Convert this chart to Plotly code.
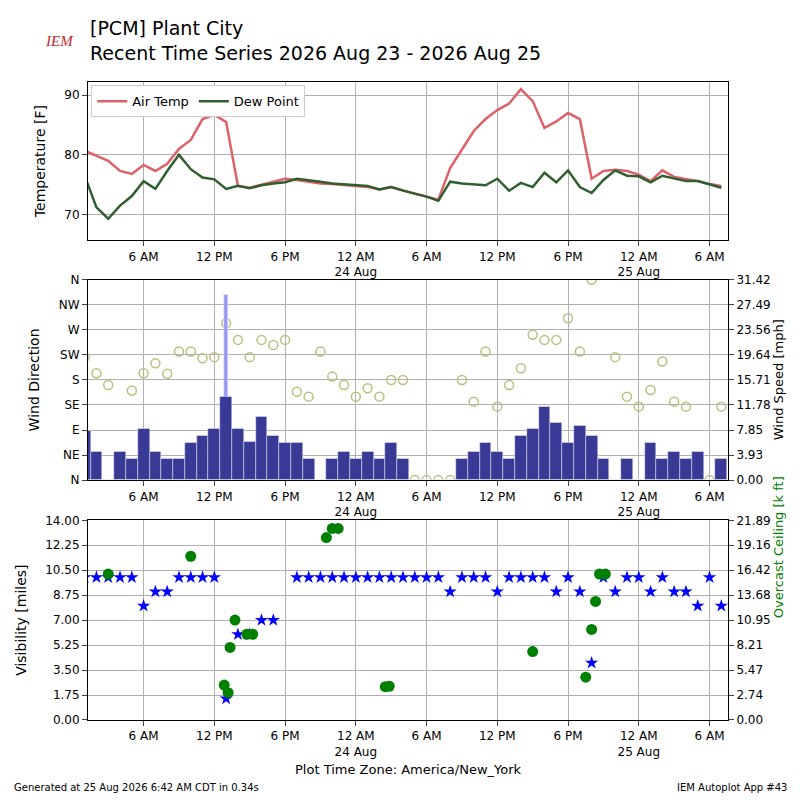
import plotly.graph_objects as go
import pandas as pd

# hourly observations, 23 Aug 01:00 -> 25 Aug 07:00 (local)
heures = pd.date_range("2026-08-23 01:00", periods=55, freq="h")

temp = [80.7, 79.8, 79, 77.3, 76.8, 78.3, 77.3, 78.5, 81, 82.5, 86, 86.7, 85.5, 74.8, 74.5,
        75, 75.5, 76, 75.8, 75.5, 75.2, 75.1, 75, 74.8, 74.6, 74.2, 74.6, 74, 73.5, 73,
        72.5, 77.8, 81, 84, 86, 87.5, 88.6, 91, 89, 84.5, 85.6, 87, 86, 76, 77.3,
        77.5, 77.3, 76.7, 75.6, 77.4, 76.3, 76, 75.6, 75.1, 74.8]
dewp = [76.5, 71.2, 69.3, 71.5, 73.1, 75.6, 74.3, 77.3, 80, 77.6, 76.2, 75.9, 74.3, 74.8, 74.4,
        74.9, 75.2, 75.4, 76, 75.8, 75.5, 75.2, 75.1, 75, 74.8, 74.2, 74.6, 74, 73.5, 73,
        72.3, 75.5, 75.2, 75.1, 74.9, 76, 74, 75.3, 74.6, 77, 75.4, 77.4, 74.6, 73.6, 75.8,
        77.4, 76.5, 76.4, 75.4, 76.5, 76, 75.6, 75.6, 75, 74.5]
vent = [7.8, 4.5, 0, 4.5, 3.4, 8, 4.5, 3.4, 3.4, 5.8, 7, 8, 13, 8, 6,
        10, 6.9, 5.8, 5.8, 3.4, 0, 3.4, 4.5, 3.4, 4.5, 3.4, 5.8, 3.4, 0, 0,
        0, 0, 3.4, 4.5, 5.8, 4.5, 3.4, 7, 8, 11.5, 9, 5.8, 8.5, 7, 3.4,
        0, 3.4, 0, 5.8, 3.4, 4.5, 3.4, 4.5, 0, 3.4]
rafale = [None] * 12 + [29] + [None] * 42
direction = [221, 192, 171, 0, 161, 192, 210, 191, 231, 231, 219, 221, 282, 252, 221,
             252, 243, 252, 159, 150, 231, 186, 171, 150, 165, 150, 180, 180, 0, 0,
             0, 0, 180, 141, 231, 132, 171, 201, 261, 252, 252, 291, 231, 360, 0,
             221, 150, 132, 162, 213, 141, 132, 0, 0, 132]
visi = [10, 10, 10, 10, 10, 8, 9, 9, 10, 10, 10, 10, 1.5, 6, 6,
        7, 7, None, 10, 10, 10, 10, 10, 10, 10, 10, 10, 10, 10, 10,
        10, 9, 10, 10, 10, 9, 10, 10, 10, 10, 9, 10, 9, 4, 10,
        9, 10, 10, 9, 10, 9, 9, 8, 10, 8]
plafond_t = ["2026-08-23 03:00", "2026-08-23 10:00", "2026-08-23 12:50", "2026-08-23 13:10",
             "2026-08-23 13:20", "2026-08-23 13:45", "2026-08-23 14:45", "2026-08-23 15:15",
             "2026-08-23 21:30", "2026-08-23 22:00", "2026-08-23 22:30", "2026-08-24 02:30",
             "2026-08-24 02:50", "2026-08-24 15:00", "2026-08-24 19:30", "2026-08-24 20:00",
             "2026-08-24 20:20", "2026-08-24 20:40", "2026-08-24 21:10"]
plafond = [16.0, 17.95, 3.83, 3.0, 7.96, 10.95, 9.4, 9.4, 20.0, 21.0, 21.0, 3.65,
           3.7, 7.5, 4.7, 9.93, 13.0, 16.0, 16.0]

dir_labels = ["N", "NE", "E", "SE", "S", "SW", "W", "NW", "N"]
tick_t = pd.date_range("2026-08-23 06:00", "2026-08-25 06:00", freq="6h")
tick_txt = ["6 AM", "12 PM", "6 PM", "12 AM<br>24 Aug", "6 AM", "12 PM", "6 PM",
            "12 AM<br>25 Aug", "6 AM"]

fig = go.Figure()
fig.add_trace(go.Scatter(x=heures, y=temp, name="Air Temp", mode="lines",
                         line=dict(color="#de6169", width=2.5), xaxis="x", yaxis="y"))
fig.add_trace(go.Scatter(x=heures, y=dewp, name="Dew Point", mode="lines",
                         line=dict(color="#2f5f2f", width=2.5), xaxis="x", yaxis="y"))
fig.add_trace(go.Bar(x=heures, y=rafale, marker_color="#9a9af5", showlegend=False,
                     xaxis="x2", yaxis="y6", width=1200000))
fig.add_trace(go.Bar(x=heures, y=vent, marker_color="#393996", showlegend=False,
                     xaxis="x2", yaxis="y6", width=3600000))
fig.add_trace(go.Scatter(x=heures, y=direction, mode="markers", showlegend=False,
                         marker=dict(symbol="circle-open", size=9, color="#bdbd80", line_width=1.5),
                         xaxis="x2", yaxis="y2"))
fig.add_trace(go.Scatter(x=heures, y=visi, mode="markers", showlegend=False,
                         marker=dict(symbol="star", size=10, color="blue"), xaxis="x3", yaxis="y3"))
fig.add_trace(go.Scatter(x=pd.to_datetime(plafond_t), y=plafond, mode="markers", showlegend=False,
                         marker=dict(size=11, color="green"), xaxis="x3", yaxis="y7"))

xrange = ["2026-08-23 01:17", "2026-08-25 07:34"]
axe_x = dict(range=xrange, tickvals=tick_t, ticktext=tick_txt, showgrid=True, gridcolor="#b0b0b0",
             showline=True, linecolor="black", mirror=True, ticks="outside", tickangle=0)
grille = dict(showgrid=True, gridcolor="#b0b0b0", showline=True, linecolor="black",
              ticks="outside", zeroline=False)

fig.update_layout(
    width=800, height=800, plot_bgcolor="white", paper_bgcolor="white",
    font=dict(family="DejaVu Sans", size=12, color="black"),
    margin=dict(l=80, r=80, t=74, b=88), barmode="overlay", bargap=0,
    xaxis=dict(axe_x, domain=[0, 1], anchor="y"),
    xaxis2=dict(axe_x, domain=[0, 1], anchor="y2"),
    xaxis3=dict(axe_x, domain=[0, 1], anchor="y3"),
    yaxis=dict(grille, domain=[0.752, 1.0], range=[65.7, 92.2], tickvals=[70, 80, 90],
               title="Temperature [F]", anchor="x", mirror=True),
    yaxis2=dict(grille, domain=[0.376, 0.69], range=[0, 360], tickvals=list(range(0, 361, 45)),
                ticktext=dir_labels, title="Wind Direction", anchor="x2"),
    yaxis6=dict(range=[0, 31.42], overlaying="y2", side="right", anchor="x2", showgrid=False,
                tickvals=[i * 3.9275 for i in range(9)],
                ticktext=["0.00", "3.93", "7.85", "11.78", "15.71", "19.64", "23.56", "27.49", "31.42"],
                showline=True, linecolor="black", ticks="outside"),
    yaxis3=dict(grille, domain=[0, 0.313], range=[0, 14], tickvals=[i * 1.75 for i in range(9)],
                tickformat=".2f", title="Visibility [miles]", anchor="x3"),
    yaxis7=dict(range=[0, 21.89], overlaying="y3", side="right", anchor="x3", showgrid=False,
                tickvals=[i * 21.89 / 8 for i in range(9)],
                ticktext=["0.00", "2.74", "5.47", "8.21", "10.95", "13.68", "16.42", "19.16", "21.89"],
                showline=True, linecolor="black", ticks="outside"),
    legend=dict(x=0.005, y=0.995, yanchor="top", orientation="h",
                bordercolor="#cccccc", borderwidth=1, bgcolor="white", font_size=13),
)
fig.add_annotation(text="[PCM] Plant City<br>Recent Time Series 2026 Aug 23 - 2026 Aug 25",
                   x=0.0, y=1.105, xref="paper", yref="paper", xanchor="left", yanchor="top",
                   align="left", showarrow=False, font_size=19)
fig.add_annotation(text="Wind Speed [mph]", x=1.095, y=0.533, xref="paper", yref="paper",
                   textangle=-90, showarrow=False, font_size=13)
fig.add_annotation(text="Overcast Ceiling [k ft]", x=1.095, y=0.157, xref="paper", yref="paper",
                   textangle=-90, showarrow=False, font=dict(size=13, color="green"))
fig.add_annotation(text="Plot Time Zone: America/New_York", x=0.5, y=-0.092, xref="paper",
                   yref="paper", showarrow=False, font_size=13)
fig.add_annotation(text="Generated at 25 Aug 2026 6:42 AM CDT in 0.34s", x=-0.118, y=-0.118,
                   xref="paper", yref="paper", xanchor="left", showarrow=False, font_size=10)
fig.add_annotation(text="IEM Autoplot App #43", x=1.095, y=-0.118, xref="paper", yref="paper",
                   xanchor="right", showarrow=False, font_size=10)
fig.add_annotation(text="<i>IEM</i>", x=-0.07, y=1.08, xref="paper", yref="paper",
                   showarrow=False, font=dict(size=15, color="#c0282d", family="Liberation Serif"))

fig.write_html("out.html")
